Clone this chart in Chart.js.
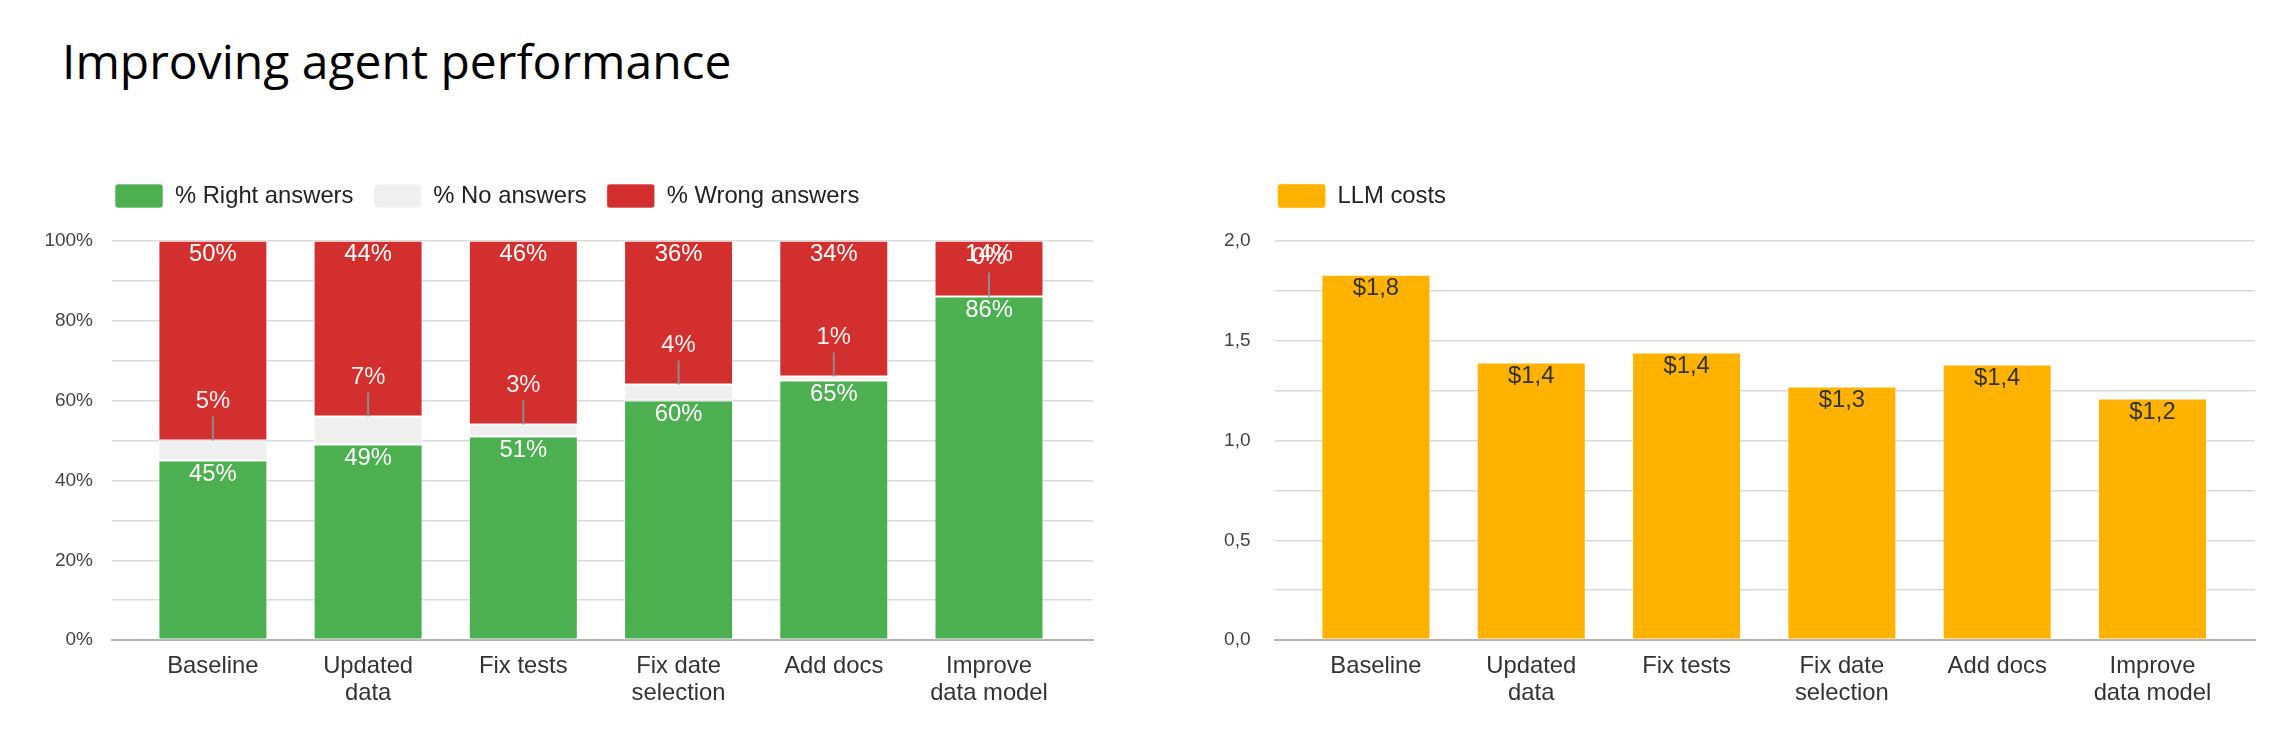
<!DOCTYPE html>
<html>
<head>
<meta charset="utf-8">
<script src="https://cdn.jsdelivr.net/npm/chart.js@4.4.1/dist/chart.umd.min.js"></script>
<style>
  body { margin: 0; background: #fff; width: 2292px; height: 750px; overflow: hidden; position: relative; }
  h1 { position: absolute; left: 62px; top: 37px; margin: 0; font: 400 48px/1 "Open Sans", sans-serif; color: #000; white-space: nowrap; }
  .box { position: absolute; top: 0; width: 1146px; height: 750px; }
</style>
</head>
<body>
<h1>Improving agent performance</h1>
<div class="box" style="left:0"><canvas id="answers"></canvas></div>
<div class="box" style="left:1146px"><canvas id="costs"></canvas></div>
<script>
const categories = ['Baseline', 'Updated\ndata', 'Fix tests', 'Fix date\nselection', 'Add docs', 'Improve\ndata model']
const rightAnswers = [45, 49, 51, 60, 65, 86]
const noAnswers = [5, 7, 3, 4, 1, 0]
const wrongAnswers = [50, 44, 46, 36, 34, 14]
const llmCosts = [1.83, 1.39, 1.44, 1.27, 1.38, 1.21]

Chart.defaults.font.family = '"Liberation Sans", Arial, sans-serif'
Chart.defaults.animation = false

const points = vals => vals.map((v, i) => ({ x: i, y: v }))

// Google-style labels: inside the top of each bar, or above it with a leader line
const barLabels = {
  id: 'barLabels',
  afterDatasetsDraw(chart, args, opts) {
    const ctx = chart.ctx
    ctx.save()
    ctx.font = '23.8px "Liberation Sans", Arial, sans-serif'
    ctx.textAlign = 'center'
    ctx.textBaseline = 'middle'
    chart.data.datasets.forEach((ds, di) => {
      chart.getDatasetMeta(di).data.forEach((bar, i) => {
        const text = opts.format(ds.data[i].y)
        if (ds.callout) {
          ctx.strokeStyle = '#8c8c8c'
          ctx.lineWidth = 2
          ctx.beginPath()
          ctx.moveTo(bar.x, bar.y)
          ctx.lineTo(bar.x, bar.y - 24)
          ctx.stroke()
          ctx.fillStyle = '#f2f2f2'
          ctx.fillText(text, bar.x, bar.y - 39)
        } else {
          ctx.fillStyle = opts.color
          ctx.fillText(text, bar.x, bar.y + 14)
        }
      })
    })
    ctx.restore()
  },
}

// legend sits right above the plot, with extra space below it
const legendPlace = {
  id: 'legendPlace',
  beforeInit(chart) {
    const fit = chart.legend.fit
    chart.legend.fit = function () {
      fit.call(this)
      this.height += chart.options.plugins.legendPlace.gap
    }
  },
  afterLayout(chart, args, opts) {
    chart.legend.left = opts.left
  },
}

function xScale(max) {
  return {
    type: 'linear',
    stacked: true,
    offset: false,
    min: -0.65,
    max: max,
    afterBuildTicks: s => {
      s.ticks = s.ticks.filter(t => Number.isInteger(t.value) && t.value >= 0 && t.value < categories.length)
    },
    ticks: {
      stepSize: 1,
      autoSkip: false,
      maxRotation: 0,
      padding: 12.1,
      color: '#333',
      font: { size: 23.8, lineHeight: 1.15 },
      callback: v => (categories[v] ? categories[v].split('\n') : null),
    },
    grid: { display: false, drawTicks: false },
    border: { display: true, color: '#b3b3b3', width: 2 },
  }
}

const legendOpts = {
  position: 'top',
  align: 'start',
  labels: {
    boxWidth: 48,
    boxHeight: 24,
    padding: 20,
    color: '#222',
    font: { size: 23.8 },
    useBorderRadius: true,
    borderRadius: 3,
  },
}

const barStyle = {
  categoryPercentage: 1,
  barPercentage: 0.702,
  borderWidth: 1,
  borderSkipped: false,
}

const answersChart = new Chart(document.getElementById('answers'), {
  type: 'bar',
  data: {
    datasets: [
      { label: '% Right answers', data: points(rightAnswers), backgroundColor: '#4caf50', borderColor: 'rgba(255,255,255,0.6)', ...barStyle },
      { label: '% No answers', data: points(noAnswers), backgroundColor: '#efefef', borderColor: 'rgba(255,255,255,0.9)', callout: true, ...barStyle },
      { label: '% Wrong answers', data: points(wrongAnswers), backgroundColor: '#d32f2f', borderColor: 'rgba(255,255,255,0.6)', ...barStyle },
    ],
  },
  options: {
    responsive: true,
    maintainAspectRatio: false,
    layout: { padding: { left: 30, right: 53, top: 164, bottom: 30.9 } },
    plugins: {
      legend: legendOpts,
      legendPlace: { left: 95, gap: 22.7 },
      tooltip: { enabled: false },
      barLabels: { format: v => v + '%', color: '#fff' },
    },
    scales: {
      x: xScale(5.67),
      y: {
        stacked: true,
        min: 0,
        max: 100,
        afterFit: s => { s.width = 82 },
        ticks: {
          stepSize: 10,
          autoSkip: false,
          padding: 19,
          color: '#444',
          font: { size: 19 },
          callback: v => (v % 20 === 0 ? v + '%' : ''),
        },
        grid: { color: '#dadada', lineWidth: 1.5, drawTicks: false },
        border: { display: false },
      },
    },
  },
  plugins: [barLabels, legendPlace],
})

const costsChart = new Chart(document.getElementById('costs'), {
  type: 'bar',
  data: {
    datasets: [
      { label: 'LLM costs', data: points(llmCosts), backgroundColor: '#ffb300', borderColor: 'rgba(255,255,255,0.35)', ...barStyle },
    ],
  },
  options: {
    responsive: true,
    maintainAspectRatio: false,
    layout: { padding: { left: 60, right: 37, top: 164, bottom: 30.9 } },
    plugins: {
      legend: legendOpts,
      legendPlace: { left: 111.6, gap: 22.7 },
      tooltip: { enabled: false },
      barLabels: { format: v => '$' + v.toFixed(1).replace('.', ','), color: '#333' },
    },
    scales: {
      x: xScale(5.66),
      y: {
        min: 0,
        max: 2,
        afterFit: s => { s.width = 69 },
        ticks: {
          stepSize: 0.25,
          autoSkip: false,
          padding: 24.5,
          color: '#444',
          font: { size: 19 },
          callback: v => ((v * 2) % 1 === 0 ? v.toFixed(1).replace('.', ',') : ''),
        },
        grid: { color: '#dadada', lineWidth: 1.5, drawTicks: false },
        border: { display: false },
      },
    },
  },
  plugins: [barLabels, legendPlace],
})
</script>
</body>
</html>
